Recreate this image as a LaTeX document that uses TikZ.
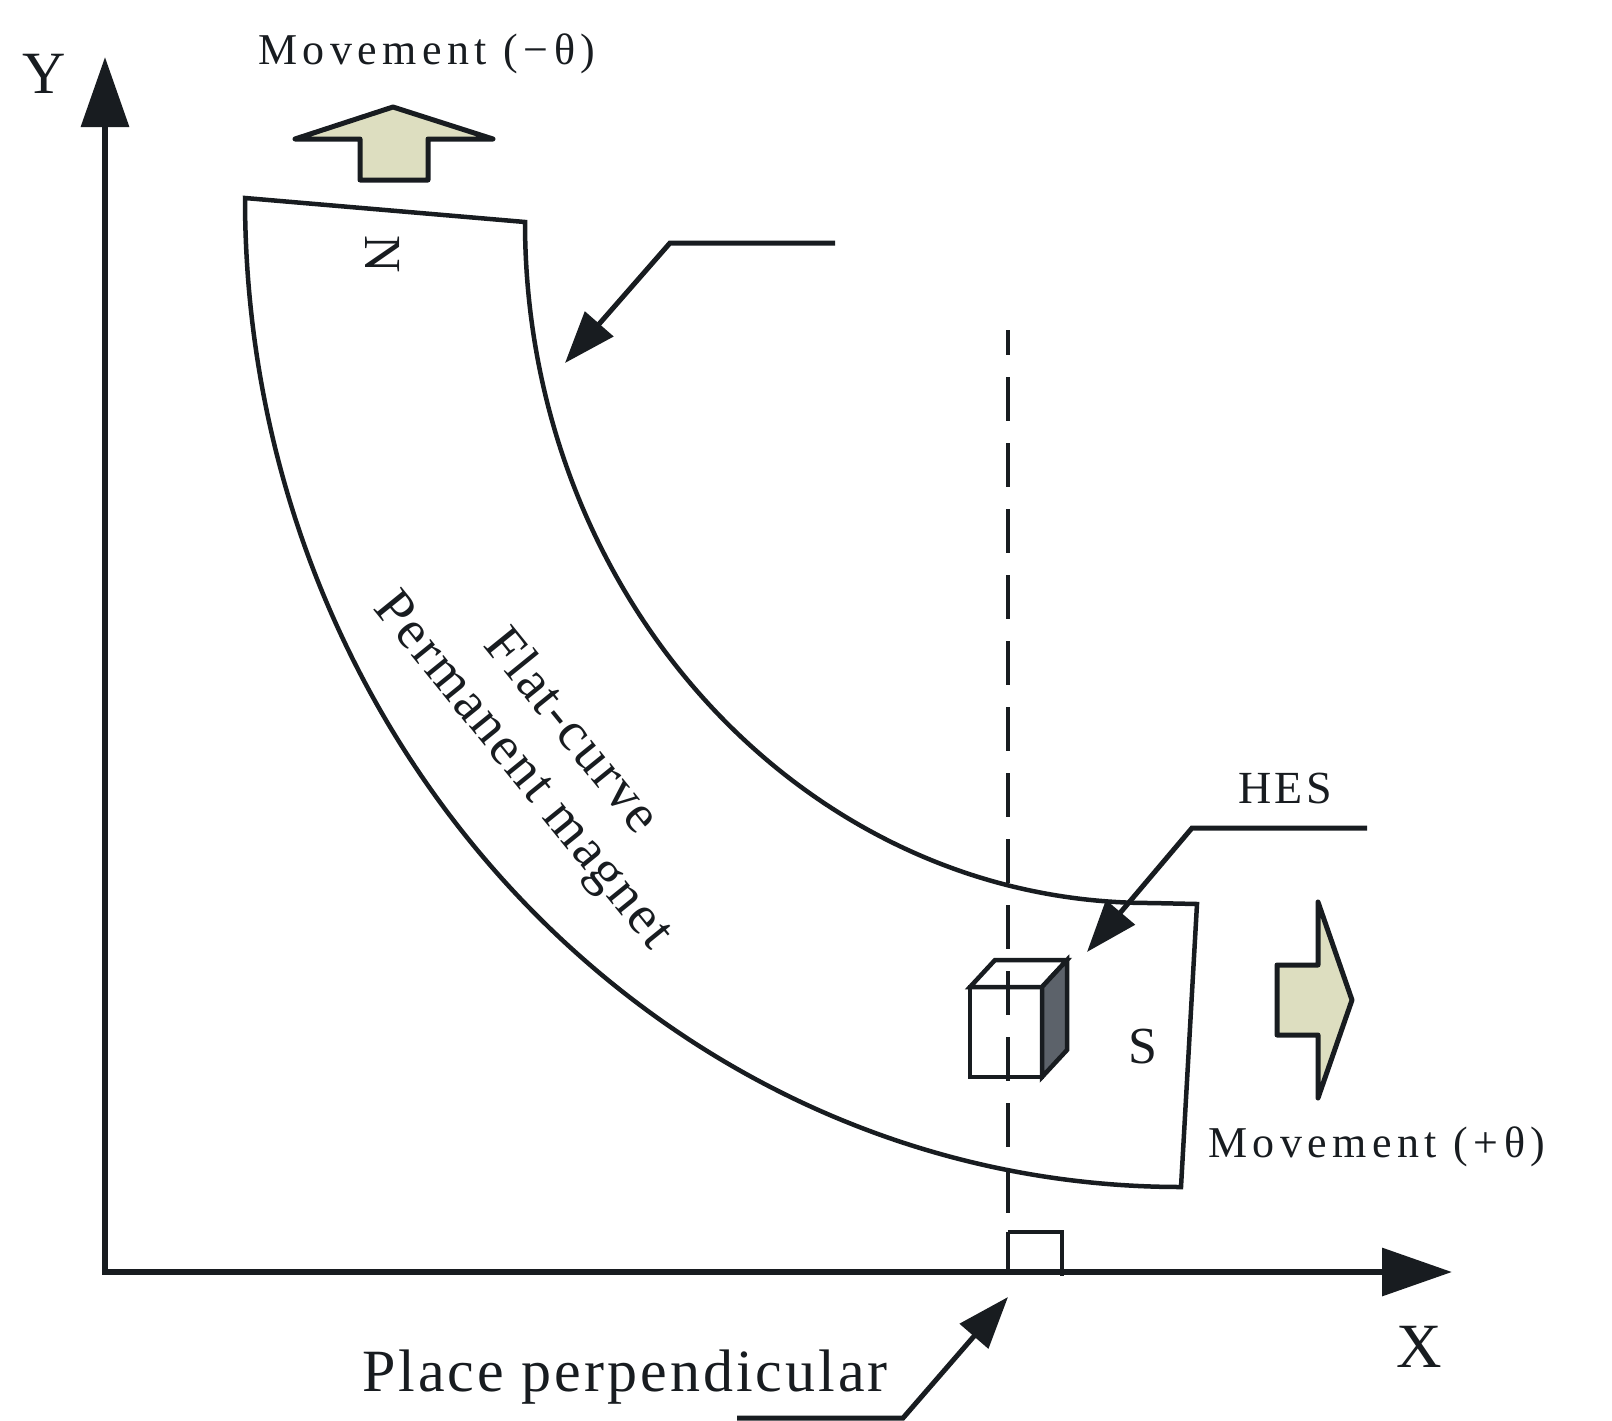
\documentclass[tikz,border=0pt]{standalone}
\usepackage{fontspec}
\usepackage{graphicx}
\setmainfont{Liberation Serif}
\usetikzlibrary{arrows.meta}
\definecolor{ink}{RGB}{24,28,32}
\definecolor{arrowfill}{RGB}{221,222,192}
\definecolor{cubeside}{RGB}{92,98,106}
\tikzset{
  outline/.style={draw=ink, line width=4.5pt, line join=miter},
  axisline/.style={draw=ink, line width=6.5pt, line join=miter,
    {Triangle[length=70pt,width=47pt]}-{Triangle[length=70pt,width=47pt]}},
  pointer/.style={draw=ink, line width=5pt, line join=miter,
    -{Triangle[length=52pt,width=37pt]}},
  movearrow/.style={draw=ink, fill=arrowfill, line width=5pt, line join=round},
  dashline/.style={draw=ink, line width=4.8pt, dash pattern=on 44pt off 22pt, dash phase=19pt},
  lbl/.style={inner sep=0pt, outer sep=0pt, text=ink},
  movetext/.style={lbl, anchor=base west, font={\fontsize{44}{50}\selectfont\addfontfeature{LetterSpace=12.5}}},
}
\begin{document}
\begin{tikzpicture}[x=1pt,y=-1pt]
\useasboundingbox (0,0) rectangle (1612,1421);

% coordinates
\coordinate (O) at (105,1272);
\coordinate (Ytip) at (105,57);
\coordinate (Xtip) at (1452,1272);
\coordinate (dtop) at (1008,330);
\coordinate (dbot) at (1008,1272);
\coordinate (tpA) at (835,243);
\coordinate (tpB) at (670,243);
\coordinate (tptip) at (565,363);
\coordinate (hesA) at (1367,828);
\coordinate (hesB) at (1192,828);
\coordinate (hestip) at (1087,952);
\coordinate (plA) at (737,1418);
\coordinate (plB) at (903,1418);
\coordinate (pltip) at (1008,1297);

% axes
\draw[axisline] (Ytip) -- (O) -- (Xtip);

% magnet
\draw[outline] (245,198) -- (525,222)
  .. controls (525,598) and (805,903) .. (1150,903)
  -- (1197,904) -- (1181,1187)
  .. controls (664,1187) and (245,744) .. (245,198) -- cycle;

% movement arrows
\draw[movearrow] (360,180) -- (360,139) -- (295,139) -- (393,107) -- (493,139) -- (428,139) -- (428,180) -- cycle;
\draw[movearrow] (1277,965) -- (1318,965) -- (1318,902) -- (1352,1000) -- (1318,1098) -- (1318,1035) -- (1277,1035) -- cycle;

% HES cube
\draw[outline, fill=white] (970,987) rectangle (1042,1077);
\draw[outline, fill=white] (970,987) -- (995,960) -- (1067,960) -- (1042,987) -- cycle;
\draw[outline, fill=cubeside] (1042,987) -- (1067,960) -- (1067,1050) -- (1042,1077) -- cycle;

% dashed perpendicular and right-angle mark
\draw[dashline] (dtop) -- (dbot);
\draw[outline] (1008,1232) -- (1062,1232) -- (1062,1276);
\draw[outline] (1008,1232) -- (1008,1272);

% pointers
\draw[pointer] (tpA) -- (tpB) -- (tptip);
\draw[pointer] (hesA) -- (hesB) -- (hestip);
\draw[pointer] (plA) -- (plB) -- (pltip);

% labels
\node[lbl, anchor=base, font=\fontsize{60}{66}\selectfont] (ylab) at (44,93) {Y};
\node[lbl, anchor=base, font=\fontsize{63}{68}\selectfont] (xlab) at (1419,1367) {X};
\node[movetext] (movup) at (258,65) {Movement (−θ)};
\node[movetext] (movdn) at (1208,1157) {Movement (+θ)};
\node[lbl, anchor=base west, font={\fontsize{46}{50}\selectfont\addfontfeature{LetterSpace=8}}] (hes) at (1238,803) {HES};
\node[lbl, anchor=base west, font={\fontsize{60}{66}\selectfont\addfontfeature{LetterSpace=5}}] (place) at (362,1391) {Place perpendicular};
\node[lbl, rotate=-90, font=\fontsize{52}{52}\selectfont] (npole) at (383,254) {N};
\node[lbl, font=\fontsize{52}{52}\selectfont] (spole) at (1143,1047) {S};
\node[lbl, rotate=-51, align=center, font={\fontsize{55}{62}\selectfont\addfontfeature{LetterSpace=4}}] (magtxt) at (546,752)
  {Flat-curve\\Permanent magnet};
\end{tikzpicture}
\end{document}
